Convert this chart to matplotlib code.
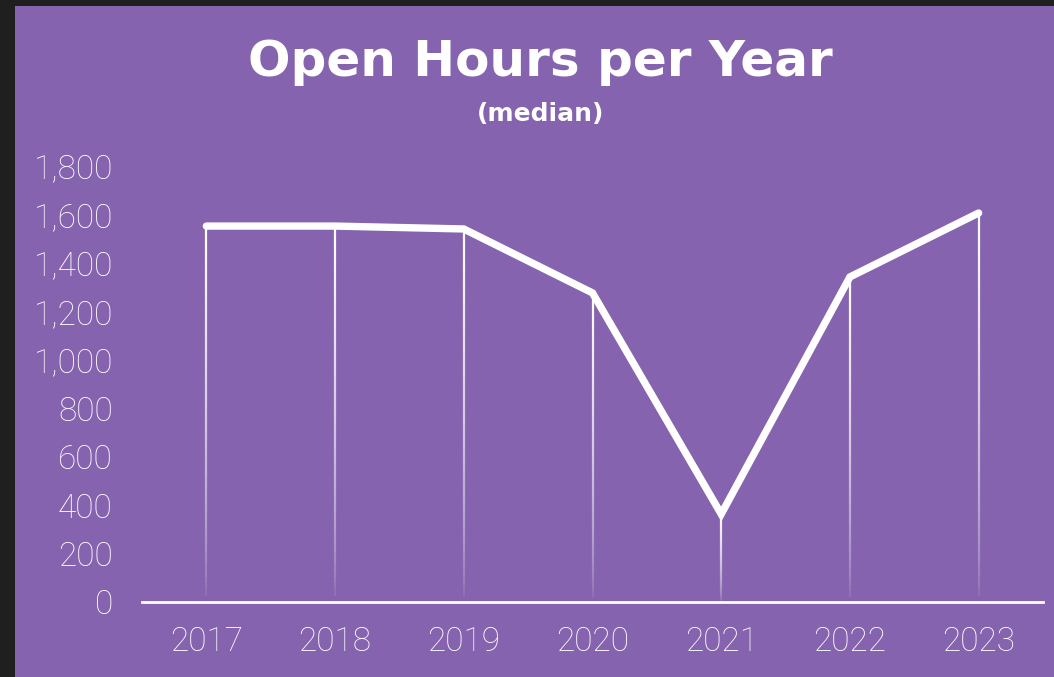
import matplotlib.pyplot as plt
import numpy as np
from matplotlib.collections import LineCollection
from matplotlib.patches import Rectangle
from matplotlib.ticker import FuncFormatter

years = ['2017', '2018', '2019', '2020', '2021', '2022', '2023']
hours = [1552, 1552, 1540, 1276, 363, 1342, 1606]

purple = '#8563ae'
dark = '#1f1f1f'

fig = plt.figure(figsize=(10.54, 6.77), dpi=100)
fig.patch.set_facecolor(dark)
fig.patches.append(Rectangle((15 / 1054, 0), 1, 1 - 6 / 677, transform=fig.transFigure,
                             facecolor=purple, edgecolor='none', zorder=-10))

ax = fig.add_axes([142 / 1054, 1 - 602 / 677, (1043 - 142) / 1054, (602 - 166) / 677])
ax.set_facecolor('none')
ax.set_zorder(1)
x = np.arange(len(years))

# drop lines fading out towards the bottom
n = 60
for xi, v in zip(x, hours):
    ys = np.linspace(v, 0, n + 1)
    segs = [[(xi, ys[k]), (xi, ys[k + 1])] for k in range(n)]
    alphas = np.linspace(1.0, 0.0, n) ** 0.6
    cols = [(1, 1, 1, a) for a in alphas]
    ax.add_collection(LineCollection(segs, colors=cols, linewidths=1.6, zorder=2))

ax.plot(x, hours, color='white', lw=5.3, solid_capstyle='round',
        solid_joinstyle='miter', zorder=3)

ax.set_xlim(-0.5, len(years) - 0.5)
ax.set_ylim(0, 1800)
ax.set_yticks(range(0, 1801, 200))
ax.yaxis.set_major_formatter(FuncFormatter(lambda v, p: f'{int(v):,}'))
ax.set_xticks(x)
ax.set_xticklabels(years)

for s in ['top', 'right', 'left']:
    ax.spines[s].set_visible(False)
ax.spines['bottom'].set_color('white')
ax.spines['bottom'].set_linewidth(2)
ax.tick_params(length=0, colors='white', labelsize=24)
ax.tick_params(axis='y', pad=21)
ax.tick_params(axis='x', pad=17)
for lab in ax.get_xticklabels() + ax.get_yticklabels():
    lab.set_fontfamily('Roboto')
    lab.set_fontweight('light')

fig.text(0.513, 1 - 62 / 677, 'Open Hours per Year', color='white', fontsize=36,
         fontweight='bold', family='DejaVu Sans', ha='center', va='center')
fig.text(0.513, 1 - 114 / 677, '(median)', color='white', fontsize=18,
         fontweight='bold', family='DejaVu Sans', ha='center', va='center')

plt.savefig('out.png', dpi=100, facecolor=fig.get_facecolor())
